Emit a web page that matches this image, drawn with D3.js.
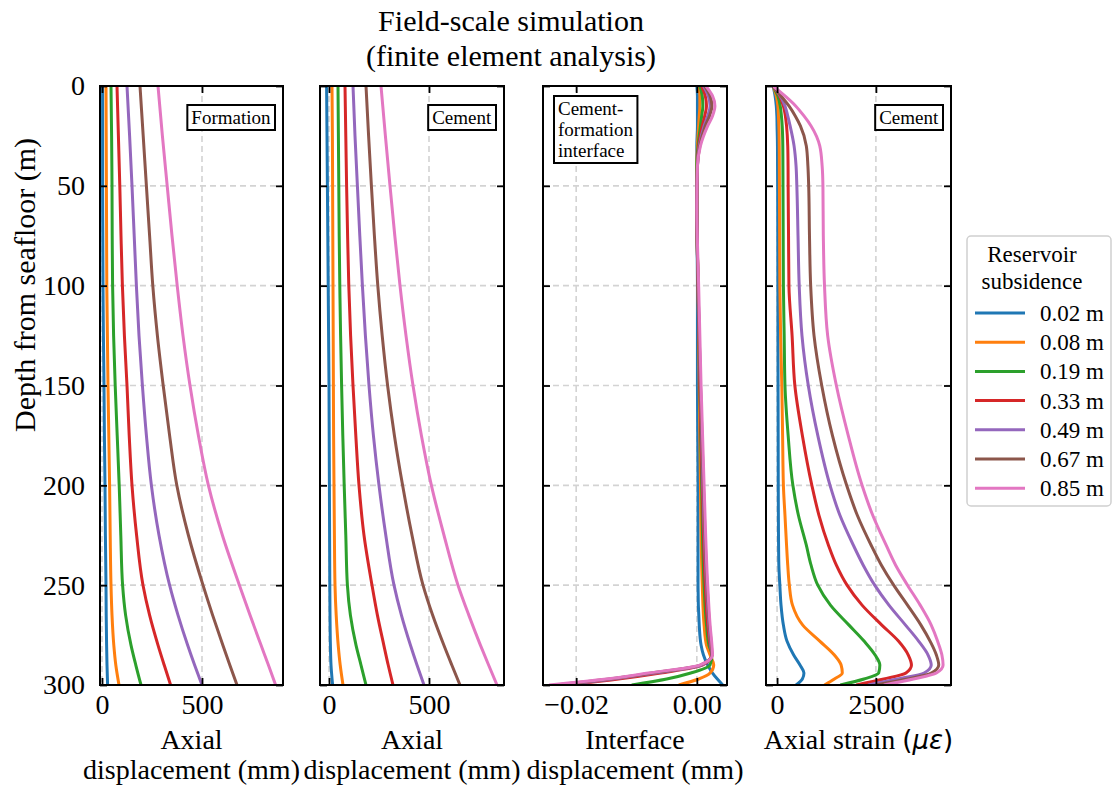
<!DOCTYPE html>
<html>
<head>
<meta charset="utf-8">
<script src="https://cdn.jsdelivr.net/npm/d3@7"></script>
<style>
  body { margin: 0; background: #fff; }
  svg text { font-family: "Liberation Serif", "Times New Roman", serif; fill: #000; }
</style>
</head>
<body>
<svg id="chart"></svg>
<script>
// legend entries + colours (matplotlib tab10)
var subsidence = ["0.02 m", "0.08 m", "0.19 m", "0.33 m", "0.49 m", "0.67 m", "0.85 m"];
var colors = ["#1f77b4", "#ff7f0e", "#2ca02c", "#d62728", "#9467bd", "#8c564b", "#e377c2"];
var depthTicks = [0, 50, 100, 150, 200, 250, 300];

// panel 1 + 2 : axial displacement (mm)
var depthDisp = [0, 25, 50, 75, 100, 125, 150, 175, 200, 225, 250, 265, 280, 290, 300];
var formationDisp = [
  [3, 3, 3, 4, 5, 7, 10, 12, 15, 17, 20, 21, 23, 25, 28],
  [20, 21, 22, 23, 24, 27, 30, 34, 38, 41, 45, 50, 59, 69, 85],
  [45, 48, 50, 51, 53, 58, 66, 76, 86, 94, 103, 118, 145, 169, 195],
  [75, 82, 89, 95, 102, 112, 125, 136, 150, 173, 205, 238, 280, 311, 343],
  [125, 138, 150, 161, 172, 185, 202, 222, 247, 285, 338, 380, 428, 463, 500],
  [190, 206, 222, 238, 254, 277, 306, 338, 374, 432, 505, 553, 604, 639, 675],
  [280, 302, 326, 350, 376, 405, 440, 482, 532, 602, 687, 740, 795, 832, 868]
];
var cementDisp = [
  [-12, -10, -8, -6, -4, -2, 0, 1, 2, 3, 4, 5, 7, 10, 18],
  [15, 17, 18, 19, 20, 21, 22, 23, 25, 27, 30, 36, 46, 56, 70],
  [45, 47, 49, 51, 54, 58, 63, 69, 76, 84, 92, 107, 135, 160, 185],
  [80, 84, 88, 93, 99, 108, 120, 134, 150, 175, 215, 242, 274, 296, 320],
  [120, 130, 142, 154, 167, 182, 200, 222, 250, 284, 325, 362, 407, 440, 475],
  [185, 198, 212, 227, 244, 266, 293, 327, 368, 415, 470, 518, 574, 614, 655],
  [260, 282, 305, 329, 355, 385, 420, 462, 512, 575, 645, 699, 757, 798, 840]
];

// panel 3 : interface displacement (mm)
var depthIface = [0, 5, 10, 15, 20, 30, 40, 60, 100, 150, 200, 250, 270, 280, 285, 290, 294, 297, 300];
var ifaceDisp = [
  [0.0000, 0.0001, 0.0001, 0.0001, 0.0001, 0, 0, 0, 0.0001, 0.0001, 0.0002, 0.0002, 0.0004, 0.0007, 0.0011, 0.0018, 0.0026, 0.0034, 0.0043],
  [0.0003, 0.0005, 0.0005, 0.0004, 0.0003, 0.0001, 0, 0, 0.0002, 0.0004, 0.0006, 0.0009, 0.0012, 0.0016, 0.0022, 0.0028, 0.0022, 0.0003, -0.0030],
  [0.0005, 0.0009, 0.0010, 0.0008, 0.0006, 0.0002, 0, 0, 0.0002, 0.0005, 0.0008, 0.0012, 0.0016, 0.0020, 0.0025, 0.0022, -0.0010, -0.0050, -0.0108],
  [0.0008, 0.0014, 0.0016, 0.0013, 0.0009, 0.0003, 0.0001, 0, 0.0002, 0.0005, 0.0009, 0.0014, 0.0018, 0.0022, 0.0025, 0.0010, -0.0060, -0.0130, -0.0220],
  [0.0011, 0.0019, 0.0022, 0.0018, 0.0012, 0.0004, 0.0001, 0, 0.0002, 0.0006, 0.0010, 0.0016, 0.0020, 0.0023, 0.0025, 0.0008, -0.0070, -0.0140, -0.0225],
  [0.0013, 0.0022, 0.0025, 0.0021, 0.0014, 0.0005, 0.0001, 0, 0.0002, 0.0006, 0.0011, 0.0017, 0.0021, 0.0024, 0.0025, 0.0006, -0.0075, -0.0145, -0.0235],
  [0.0015, 0.0026, 0.0030, 0.0026, 0.0018, 0.0006, 0.0001, 0, 0.0003, 0.0007, 0.0012, 0.0018, 0.0022, 0.0025, 0.0026, 0.0005, -0.0080, -0.0150, -0.0245]
];

// panel 4 : axial strain (microstrain)
var depthStrain = [0, 5, 10, 15, 20, 30, 40, 50, 75, 100, 125, 150, 175, 200, 215, 230, 240, 250, 260, 270, 278, 285, 290, 294, 297, 300];
var cementStrain = [
  [-100, -50, -20, -5, 0, 10, 12, 15, 18, 20, 22, 25, 28, 30, 33, 38, 45, 70, 100, 160, 250, 420, 580, 680, 640, 480],
  [-100, -20, 20, 35, 45, 55, 58, 60, 65, 70, 90, 120, 140, 160, 200, 240, 270, 310, 390, 650, 1080, 1450, 1620, 1650, 1450, 1200],
  [-100, 20, 80, 110, 130, 145, 148, 150, 155, 160, 180, 200, 280, 400, 540, 740, 860, 1030, 1350, 1820, 2200, 2480, 2600, 2570, 2200, 1600],
  [-100, 60, 160, 210, 240, 270, 278, 280, 290, 300, 380, 450, 640, 880, 1060, 1300, 1500, 1770, 2150, 2650, 3070, 3320, 3400, 3260, 2700, 2000],
  [-100, 80, 200, 270, 330, 430, 480, 500, 530, 560, 630, 790, 1030, 1340, 1590, 1930, 2180, 2470, 2830, 3250, 3580, 3820, 3900, 3720, 3050, 2300],
  [-100, 100, 300, 460, 590, 740, 780, 800, 820, 850, 935, 1130, 1400, 1760, 2030, 2380, 2640, 2950, 3300, 3640, 3870, 4030, 4090, 3900, 3300, 2500],
  [-100, 200, 470, 680, 860, 1080, 1140, 1160, 1170, 1200, 1280, 1500, 1800, 2150, 2420, 2760, 3000, 3300, 3620, 3900, 4060, 4170, 4200, 4030, 3450, 2700]
];

var svgWidth = 1114;
var svgHeight = 785;
var plotTop = 86;
var plotBottom = 685;
var fontTitle = 30;
var fontLabel = 28;
var fontTick = 28;
var serif = '"Liberation Serif", "Times New Roman", serif';
var svg = d3.select("#chart").attr("width", svgWidth).attr("height", svgHeight);

var yScale = d3.scaleLinear().domain([0, 300]).range([plotTop, plotBottom]);

var panels = [
  { left: 100, right: 283, domain: [-10, 905], ticks: [0, 500], fmt: d3.format("d"),
    depth: depthDisp, series: formationDisp, label: ["Axial", "displacement (mm)"],
    tag: ["Formation"], tagSide: "right" },
  { left: 320, right: 504, domain: [-45, 875], ticks: [0, 500], fmt: d3.format("d"),
    depth: depthDisp, series: cementDisp, label: ["Axial", "displacement (mm)"],
    tag: ["Cement"], tagSide: "right" },
  { left: 543, right: 727, domain: [-0.0255, 0.005], ticks: [-0.02, 0], fmt: d3.format(".2f"),
    depth: depthIface, series: ifaceDisp, label: ["Interface", "displacement (mm)"],
    tag: ["Cement-", "formation", "interface"], tagSide: "left" },
  { left: 766, right: 951, domain: [-280, 4400], ticks: [0, 2500], fmt: d3.format("d"),
    depth: depthStrain, series: cementStrain, label: null,
    tag: ["Cement"], tagSide: "right" }
];

var drawPanel = function (p, idx) {
  var x = d3.scaleLinear().domain(p.domain).range([p.left, p.right]);
  var g = svg.append("g").attr("class", "panel");
  var w = p.right - p.left;
  var h = plotBottom - plotTop;

  g.append("clipPath").attr("id", "clip" + idx)
    .append("rect").attr("x", p.left).attr("y", plotTop).attr("width", w).attr("height", h);

  // dashed grid
  g.append("g").selectAll("line").data(p.ticks).enter().append("line")
    .attr("x1", function (d) { return x(d); }).attr("x2", function (d) { return x(d); })
    .attr("y1", plotTop).attr("y2", plotBottom)
    .attr("stroke", "#d3d3d3").attr("stroke-width", 1.6).attr("stroke-dasharray", "6,4");
  g.append("g").selectAll("line").data(depthTicks.slice(1, -1)).enter().append("line")
    .attr("x1", p.left).attr("x2", p.right)
    .attr("y1", function (d) { return yScale(d); }).attr("y2", function (d) { return yScale(d); })
    .attr("stroke", "#d3d3d3").attr("stroke-width", 1.6).attr("stroke-dasharray", "6,4");

  var line = d3.line()
    .x(function (d) { return x(d[1]); })
    .y(function (d) { return yScale(d[0]); })
    .curve(d3.curveMonotoneY);

  g.append("g").attr("clip-path", "url(#clip" + idx + ")")
    .selectAll("path").data(p.series).enter().append("path")
    .attr("d", function (s) { return line(s.map(function (v, i) { return [p.depth[i], v]; })); })
    .attr("fill", "none")
    .attr("stroke", function (s, i) { return colors[i]; })
    .attr("stroke-width", 3);

  // inward ticks on all four sides
  var bottom = g.append("g").attr("transform", "translate(0," + plotBottom + ")")
    .call(d3.axisBottom(x).tickValues(p.ticks).tickFormat(p.fmt).tickSize(-7).tickPadding(9));
  var top = g.append("g").attr("transform", "translate(0," + plotTop + ")")
    .call(d3.axisTop(x).tickValues(p.ticks).tickFormat("").tickSize(-7));
  var left = g.append("g").attr("transform", "translate(" + p.left + ",0)")
    .call(d3.axisLeft(yScale).tickValues(depthTicks).tickFormat(idx === 0 ? d3.format("d") : "").tickSize(-7).tickPadding(15));
  var right = g.append("g").attr("transform", "translate(" + p.right + ",0)")
    .call(d3.axisRight(yScale).tickValues(depthTicks).tickFormat("").tickSize(-7));
  [bottom, top, left, right].forEach(function (a) {
    a.select(".domain").remove();
    a.selectAll("line").attr("stroke", "#000").attr("stroke-width", 1.8);
    a.selectAll("text").style("font-size", fontTick + "px").style("font-family", serif);
  });

  g.append("rect").attr("x", p.left).attr("y", plotTop).attr("width", w).attr("height", h)
    .attr("fill", "none").attr("stroke", "#000").attr("stroke-width", 2);

  // tag box
  var tagG = g.append("g");
  var tagText = tagG.append("text").style("font-size", "19px");
  tagText.selectAll("tspan").data(p.tag).enter().append("tspan")
    .attr("x", 0).attr("dy", function (d, i) { return i === 0 ? 0 : 21; })
    .text(function (d) { return d; });
  var bb = tagText.node().getBBox();
  var padX = 4, padY = 2;
  var bx = p.tagSide === "right" ? p.right - 8 - bb.width - 2 * padX : p.left + 11;
  var by = p.tag.length === 1 ? 105 : 96;
  tagText.attr("transform", "translate(" + (bx + padX - bb.x) + "," + (by + padY - bb.y) + ")");
  tagG.insert("rect", "text").attr("x", bx).attr("y", by)
    .attr("width", bb.width + 2 * padX).attr("height", bb.height + 2 * padY)
    .attr("fill", "#fff").attr("stroke", "#000").attr("stroke-width", 2);

  // x label
  var cx = (p.left + p.right) / 2;
  if (p.label) {
    g.append("text").attr("x", cx).attr("y", 749).attr("text-anchor", "middle")
      .style("font-size", fontLabel + "px").text(p.label[0]);
    g.append("text").attr("x", cx).attr("y", 779).attr("text-anchor", "middle")
      .style("font-size", fontLabel + "px").text(p.label[1]);
  } else {
    var t = g.append("text").attr("x", cx).attr("y", 749).attr("text-anchor", "middle")
      .style("font-size", fontLabel + "px");
    t.append("tspan").text("Axial strain ");
    t.append("tspan").style("font-family", '"DejaVu Sans", sans-serif').style("font-size", "26px").text("(");
    t.append("tspan").style("font-family", '"DejaVu Sans", sans-serif').style("font-size", "26px")
      .style("font-style", "italic").text("\u03bc\u03b5");
    t.append("tspan").style("font-family", '"DejaVu Sans", sans-serif').style("font-size", "26px").text(")");
  }
};

var drawTitle = function () {
  svg.append("text").attr("x", 511).attr("y", 31).attr("text-anchor", "middle")
    .style("font-size", fontTitle + "px").text("Field-scale simulation");
  svg.append("text").attr("x", 511).attr("y", 66).attr("text-anchor", "middle")
    .style("font-size", fontTitle + "px").text("(finite element analysis)");
  svg.append("text")
    .attr("transform", "translate(35,285) rotate(-90)")
    .attr("text-anchor", "middle").style("font-size", fontTitle + "px")
    .text("Depth from seafloor (m)");
};

var drawLegend = function () {
  var lg = svg.append("g");
  lg.append("rect").attr("x", 967).attr("y", 236).attr("width", 144).attr("height", 270)
    .attr("rx", 4).attr("fill", "#fff").attr("stroke", "#d0d0d0").attr("stroke-width", 1.5);
  lg.append("text").attr("x", 1032).attr("y", 262).attr("text-anchor", "middle")
    .style("font-size", "23px").text("Reservoir");
  lg.append("text").attr("x", 1032).attr("y", 289).attr("text-anchor", "middle")
    .style("font-size", "23px").text("subsidence");
  var rows = lg.selectAll("g.row").data(subsidence).enter().append("g")
    .attr("transform", function (d, i) { return "translate(0," + (313 + i * 29.2) + ")"; });
  rows.append("line").attr("x1", 975).attr("x2", 1025).attr("y1", 0).attr("y2", 0)
    .attr("stroke", function (d, i) { return colors[i]; }).attr("stroke-width", 3);
  rows.append("text").attr("x", 1040).attr("y", 8).style("font-size", "23px")
    .text(function (d) { return d; });
};

panels.forEach(drawPanel);
drawTitle();
drawLegend();
</script>
</body>
</html>
